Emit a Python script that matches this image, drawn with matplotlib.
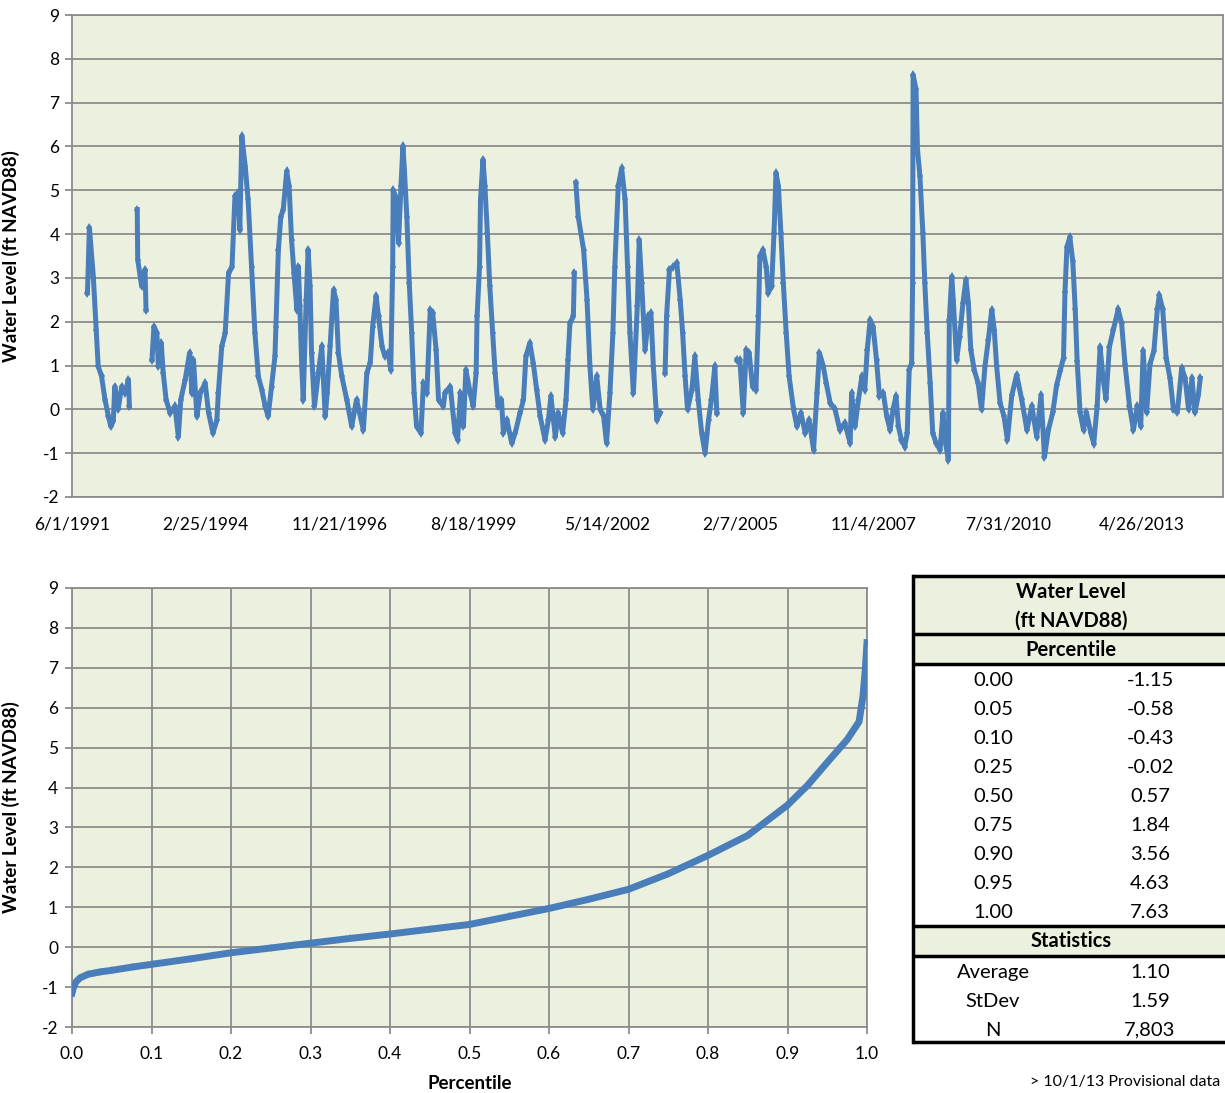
import matplotlib.pyplot as plt
from matplotlib.patches import Rectangle
import numpy as np
from datetime import datetime, timedelta

plt.rcParams['font.family'] = ['Lato', 'DejaVu Sans']
plt.rcParams['axes.unicode_minus'] = False

# water level time series (decimal year, ft NAVD88); nan = data gap
years = [1991.73, 1991.77, 1991.85, 1991.91, 1991.95, 1992.02, 1992.09, 1992.16, 1992.21, 1992.26,
         1992.29, 1992.36, 1992.43, 1992.50, 1992.57, 1992.59, 1992.67,
         1992.75, 1992.76, 1992.84, 1992.91, 1992.93, 1992.99,
         1993.05, 1993.09, 1993.15, 1993.18, 1993.24, 1993.28, 1993.34, 1993.42, 1993.52, 1993.59,
         1993.64, 1993.73, 1993.82, 1993.87, 1993.90, 1993.97, 1994.04, 1994.14, 1994.21, 1994.30,
         1994.38, 1994.41, 1994.48, 1994.55, 1994.62, 1994.69, 1994.75, 1994.82, 1994.85, 1994.89,
         1994.96, 1995.02, 1995.09, 1995.16, 1995.23, 1995.30, 1995.37, 1995.43, 1995.50, 1995.57,
         1995.59, 1995.64, 1995.69, 1995.74, 1995.81, 1995.86, 1995.91, 1995.96, 1996.02, 1996.05,
         1996.08, 1996.12, 1996.15, 1996.21, 1996.25, 1996.29, 1996.32, 1996.38, 1996.46, 1996.53,
         1996.60, 1996.64, 1996.70, 1996.77, 1996.82, 1996.87, 1996.94, 1997.04, 1997.14, 1997.24,
         1997.38, 1997.45, 1997.52, 1997.57, 1997.64, 1997.69, 1997.76, 1997.82, 1997.89, 1997.94,
         1997.98, 1997.99, 1998.06, 1998.10, 1998.15, 1998.19, 1998.22, 1998.27, 1998.32, 1998.37,
         1998.42, 1998.47, 1998.56, 1998.61, 1998.68, 1998.75, 1998.80, 1998.87, 1998.92, 1999.02,
         1999.05, 1999.16, 1999.26, 1999.31, 1999.37, 1999.43, 1999.48, 1999.57, 1999.63, 1999.69,
         1999.71, 1999.76, 1999.78, 1999.83, 1999.87, 1999.92, 1999.97, 2000.03, 2000.08, 2000.14,
         2000.21, 2000.25, 2000.32, 2000.42, 2000.49, 2000.59, 2000.66, 2000.71, 2000.79, 2000.86,
         2000.93, 2001.00, 2001.10, 2001.17, 2001.22, 2001.31, 2001.37, 2001.46, 2001.53, 2001.57,
         2001.61, 2001.68, 2001.70, 2001.71,
         2001.73, 2001.78, 2001.89, 2001.96, 2002.02, 2002.08, 2002.16, 2002.23, 2002.30, 2002.36,
         2002.43, 2002.49, 2002.53, 2002.60, 2002.67, 2002.74, 2002.79, 2002.84, 2002.91, 2002.99,
         2003.03, 2003.08, 2003.15, 2003.22, 2003.27, 2003.32, 2003.39, 2003.46, 2003.50,
         2003.56, 2003.59, 2003.65, 2003.73, 2003.80, 2003.87, 2003.92, 2003.97, 2004.02, 2004.11,
         2004.17, 2004.24, 2004.31, 2004.38, 2004.45, 2004.51, 2004.58, 2004.62, 2004.80,
         2005.03, 2005.09, 2005.16, 2005.22, 2005.28, 2005.35, 2005.42, 2005.47, 2005.50, 2005.56,
         2005.63, 2005.67, 2005.74, 2005.79, 2005.83, 2005.88, 2005.93, 2005.98, 2006.04, 2006.10,
         2006.19, 2006.26, 2006.34, 2006.43, 2006.51, 2006.60, 2006.67, 2006.72, 2006.80, 2006.86,
         2006.94, 2007.04, 2007.14, 2007.24, 2007.35, 2007.38, 2007.45, 2007.52, 2007.59, 2007.65,
         2007.70, 2007.76, 2007.82, 2007.89, 2007.95, 2008.03, 2008.10, 2008.17, 2008.23, 2008.29,
         2008.34, 2008.40, 2008.47, 2008.52, 2008.56, 2008.61, 2008.63, 2008.64, 2008.70, 2008.73,
         2008.78, 2008.84, 2008.88, 2008.93, 2008.99, 2009.04, 2009.11, 2009.19, 2009.25, 2009.29,
         2009.36, 2009.38, 2009.43, 2009.46, 2009.53, 2009.59, 2009.66, 2009.72, 2009.77, 2009.82,
         2009.89, 2009.97, 2010.04, 2010.11, 2010.18, 2010.25, 2010.30, 2010.35, 2010.42, 2010.50,
         2010.57, 2010.66, 2010.76, 2010.86, 2010.97, 2011.07, 2011.17, 2011.26, 2011.33, 2011.41,
         2011.50, 2011.58, 2011.65, 2011.72, 2011.75, 2011.79, 2011.85, 2011.91, 2011.96, 2012.00,
         2012.06, 2012.13, 2012.19, 2012.28, 2012.34, 2012.41, 2012.47, 2012.53, 2012.59, 2012.66,
         2012.74, 2012.84, 2012.91, 2012.98, 2013.07, 2013.15, 2013.23, 2013.30, 2013.35, 2013.42,
         2013.49, 2013.57, 2013.64, 2013.68, 2013.75, 2013.82, 2013.90, 2013.97, 2014.05, 2014.14,
         2014.21, 2014.28, 2014.35, 2014.41, 2014.48, 2014.52]
levels = [2.66, 4.15, 3.03, 1.82, 0.98, 0.75, 0.22, -0.16, -0.39, -0.26,
          0.52, 0.00, 0.52, 0.37, 0.68, 0.07, np.nan,
          4.56, 3.42, 2.81, 3.19, 2.27, np.nan,
          1.13, 1.89, 1.74, 0.98, 1.51, 0.83, 0.22, -0.08, 0.07, -0.62,
          0.22, 0.68, 1.29, 0.37, 1.13, -0.16, 0.37, 0.60, -0.08, -0.54,
          -0.24, 0.37, 1.44, 1.74, 3.12, 3.26, 4.86, 4.94, 4.10, 6.23,
          5.55, 4.79, 3.26, 1.74, 0.75, 0.45, 0.07, -0.16, 0.52, 1.21,
          1.89, 3.64, 4.40, 4.56, 5.43, 5.09, 3.87, 3.11, 2.27, 3.26,
          2.35, 0.98, 0.22, 2.50, 3.64, 2.81, 1.29, 0.07, 0.83, 1.44,
          -0.16, 0.37, 1.44, 2.73, 2.50, 1.29, 0.75, 0.22, -0.39, 0.22,
          -0.47, 0.83, 1.06, 1.89, 2.58, 2.12, 1.44, 1.21, 1.29, 0.90,
          3.26, 5.01, 4.79, 3.80, 5.09, 6.00, 5.47, 4.40, 2.88, 1.74,
          0.37, -0.39, -0.54, 0.60, 0.37, 2.27, 2.20, 1.36, 0.22, 0.07,
          0.37, 0.52, -0.54, -0.69, 0.37, -0.39, 0.90, 0.37, 0.07, 0.83,
          2.12, 3.26, 4.79, 5.70, 5.09, 4.03, 2.81, 1.74, 0.83, 0.07,
          0.22, -0.54, -0.24, -0.77, -0.54, -0.08, 0.22, 1.21, 1.51, 1.06,
          0.45, -0.16, -0.69, -0.24, 0.30, -0.62, -0.08, -0.54, 0.22, 1.13,
          1.97, 2.12, 3.11, np.nan,
          5.17, 4.40, 3.64, 2.50, 0.98, 0.00, 0.75, 0.00, -0.16, -0.77,
          0.37, 1.74, 3.26, 5.09, 5.50, 4.79, 3.26, 1.74, 0.37, 2.35,
          3.87, 2.88, 1.36, 2.12, 2.20, 0.98, -0.24, -0.08, np.nan,
          0.83, 2.12, 3.19, 3.26, 3.34, 2.50, 1.74, 0.75, 0.00, 0.45,
          1.21, 0.22, -0.54, -1.00, -0.24, 0.22, 0.98, -0.08, np.nan,
          1.13, 1.13, -0.08, 1.36, 1.29, 0.52, 0.45, 2.12, 3.49, 3.64,
          3.26, 2.66, 2.81, 4.03, 5.39, 5.09, 4.03, 2.88, 1.74, 0.75,
          0.00, -0.39, -0.08, -0.54, -0.24, -0.92, 0.37, 1.29, 0.98, 0.60,
          0.15, 0.00, -0.47, -0.31, -0.77, 0.37, -0.39, 0.22, 0.75, 0.45,
          1.36, 2.04, 1.89, 1.13, 0.30, 0.37, -0.16, -0.47, 0.00, 0.30,
          -0.39, -0.69, -0.85, -0.54, 0.90, 1.06, 2.88, 7.63, 7.30, 5.93,
          5.32, 4.03, 2.88, 1.74, 0.60, -0.54, -0.77, -0.92, -0.08, -0.69,
          -1.15, 2.04, 3.03, 2.50, 1.13, 1.66, 2.43, 2.96, 2.43, 1.36,
          0.90, 0.60, 0.00, 0.98, 1.59, 2.27, 1.82, 0.98, 0.15, -0.16,
          -0.69, 0.32, 0.79, 0.24, -0.47, 0.08, -0.62, 0.32, -1.09, -0.47,
          -0.07, 0.56, 0.87, 1.18, 2.68, 3.70, 3.93, 3.38, 2.28, 1.10,
          -0.07, -0.47, -0.07, -0.54, -0.78, 0.08, 1.42, 0.71, 0.24, 1.42,
          1.81, 2.28, 1.97, 1.03, 0.08, -0.47, 0.08, -0.39, 1.34, -0.07,
          1.03, 1.34, 2.28, 2.60, 2.28, 1.18, 0.71, 0.00, -0.07, 0.95,
          0.71, 0.00, 0.71, -0.07, 0.32, 0.71]

# percentile curve
pct = [0.0, 0.002, 0.005, 0.01, 0.02, 0.035, 0.05, 0.075, 0.1, 0.15, 0.2, 0.25, 0.3, 0.35,
       0.4, 0.45, 0.5, 0.55, 0.6, 0.65, 0.7, 0.75, 0.8, 0.85, 0.9, 0.925, 0.95, 0.975,
       0.99, 0.995, 0.998, 1.0]
pct_level = [-1.15, -1.0, -0.87, -0.77, -0.68, -0.62, -0.58, -0.5, -0.43, -0.29, -0.14, -0.02,
             0.1, 0.22, 0.33, 0.45, 0.57, 0.77, 0.97, 1.2, 1.45, 1.84, 2.3, 2.8, 3.56, 4.05,
             4.63, 5.2, 5.65, 6.3, 7.0, 7.63]

# summary table
tbl_pct = ["0.00", "0.05", "0.10", "0.25", "0.50", "0.75", "0.90", "0.95", "1.00"]
tbl_val = ["-1.15", "-0.58", "-0.43", "-0.02", "0.57", "1.84", "3.56", "4.63", "7.63"]
stat_names = ["Average", "StDev", "N"]
stat_vals = ["1.10", "1.59", "7,803"]


def to_date(y):
    yr = int(y)
    return datetime(yr, 1, 1) + timedelta(days=(y - yr) * 365.25)


dates = [to_date(y) for y in years]

BG = '#EBF1DE'
GRID = '#8C8C8C'
BLUE = '#4A7EBB'

W, H = 1225, 1093
fig = plt.figure(figsize=(W / 100, H / 100), dpi=100)

# ---- top: time series ----
ax1 = fig.add_axes([72 / W, 1 - 497 / H, (1223 - 72) / W, 482 / H])
ax1.set_facecolor(BG)
ax1.plot(dates, levels, color=BLUE, lw=3.6, marker='d', ms=5, mew=0, zorder=3)
start = datetime(1991, 6, 1)
ticks = [start + timedelta(days=1000 * k) for k in range(9)]
ax1.set_xlim(start, start + timedelta(days=8610))
ax1.set_xticks(ticks)
ax1.set_xticklabels([f"{d.month}/{d.day}/{d.year}" for d in ticks])
ax1.set_ylim(-2, 9)
ax1.set_yticks(range(-2, 10))
ax1.yaxis.grid(True, color=GRID, lw=1.3)
ax1.set_axisbelow(True)
ax1.tick_params(axis='x', length=0, labelsize=12.5, pad=14)
ax1.tick_params(axis='y', length=5, color=GRID, width=1.3, labelsize=12.5, pad=4)
for s in ax1.spines.values():
    s.set_color(GRID)
    s.set_linewidth(1.3)
ax1.set_ylabel("Water Level (ft NAVD88)", fontsize=13.5, fontweight='bold')
ax1.yaxis.set_label_coords(-0.045, 0.5)

# ---- bottom: percentile curve ----
ax2 = fig.add_axes([72 / W, 1 - 1027 / H, 795 / W, 439 / H])
ax2.set_facecolor(BG)
ax2.plot(pct, pct_level, color=BLUE, lw=5, marker='d', ms=4, mew=0, zorder=3)
ax2.set_xlim(0, 1)
ax2.set_ylim(-2, 9)
ax2.set_xticks(np.arange(0, 1.01, 0.1))
ax2.set_xticklabels([f"{t:.1f}" for t in np.arange(0, 1.01, 0.1)])
ax2.set_yticks(range(-2, 10))
ax2.grid(True, color=GRID, lw=1.3)
ax2.set_axisbelow(True)
ax2.tick_params(length=5, color=GRID, width=1.3, labelsize=12.5, pad=9)
ax2.tick_params(axis='y', pad=5)
for s in ax2.spines.values():
    s.set_color(GRID)
    s.set_linewidth(1.3)
ax2.set_ylabel("Water Level (ft NAVD88)", fontsize=13.5, fontweight='bold')
ax2.yaxis.set_label_coords(-0.065, 0.5)
ax2.set_xlabel("Percentile", fontsize=13.5, fontweight='bold')
ax2.xaxis.set_label_coords(0.5, -0.11)

# ---- table ----
L, R, T, B = 913, 1229, 576, 1043
tax = fig.add_axes([L / W, 1 - B / H, (R - L) / W, (B - T) / H])
tax.set_xlim(L, R)
tax.set_ylim(B, T)
tax.axis('off')
cx = (L + R) / 2
c1, c2 = 993, 1150
for y0, y1 in [(576, 634), (634, 664), (926, 956)]:
    tax.add_patch(Rectangle((L, y0), R - L, y1 - y0, facecolor=BG, edgecolor='none', clip_on=False))
for y in [576, 634, 664, 926, 956, 1042]:
    tax.plot([L, R], [y, y], color='black', lw=2.5, clip_on=False, solid_capstyle='butt')
tax.plot([L, L], [T, 1042], color='black', lw=2.5, clip_on=False)
tax.text(cx, 592, "Water Level", ha='center', va='center', fontsize=14.5, fontweight='bold')
tax.text(cx, 621, "(ft NAVD88)", ha='center', va='center', fontsize=14.5, fontweight='bold')
tax.text(cx, 650, "Percentile", ha='center', va='center', fontsize=14.5, fontweight='bold')
for i, (p, v) in enumerate(zip(tbl_pct, tbl_val)):
    y = 680 + i * 29.1
    tax.text(c1, y, p, ha='center', va='center', fontsize=14.5)
    tax.text(c2, y, v, ha='center', va='center', fontsize=14.5)
tax.text(cx, 941, "Statistics", ha='center', va='center', fontsize=14.5, fontweight='bold')
for i, (n, v) in enumerate(zip(stat_names, stat_vals)):
    y = 972 + i * 29.1
    tax.text(c1, y, n, ha='center', va='center', fontsize=14.5)
    tax.text(c2, y, v, ha='center', va='center', fontsize=14.5)

fig.text(1030 / W, 1 - 1082 / H, "> 10/1/13 Provisional data", ha='left', va='center', fontsize=11.5)

fig.savefig("out.png", dpi=100)
